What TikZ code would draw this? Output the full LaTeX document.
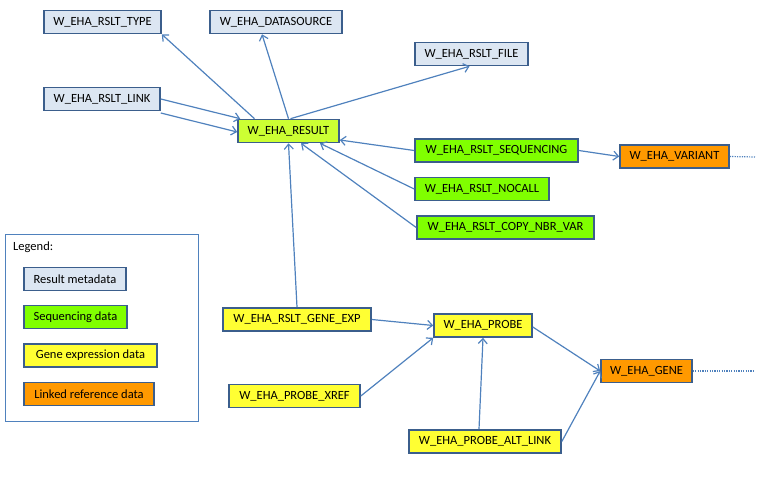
\documentclass[tikz,border=0pt]{standalone}
\usepackage{fontspec}
\setmainfont{Carlito}
\usepackage{tikz}
\usetikzlibrary{arrows.meta}

\definecolor{edgeblue}{HTML}{4F81BD}
\definecolor{boxline}{HTML}{3B5E8C}
\definecolor{metafill}{HTML}{DCE6F2}
\definecolor{seqfill}{HTML}{80FF00}
\definecolor{resfill}{HTML}{CCFF33}
\definecolor{genefill}{HTML}{FFFF33}
\definecolor{reffill}{HTML}{FF9900}

\begin{document}
\begin{tikzpicture}[x=1pt, y=-1pt, > = {Straight Barb[length=5pt,width=9pt]}, font=\fontsize{12.5}{14}\selectfont]
                \tikzstyle{table}=[rectangle, draw=boxline, line width=1.6pt, minimum height=23pt, inner sep=2pt]
                \tikzstyle{link}=[->, draw=edgeblue, line width=1.2pt]
                \tikzstyle{more}=[draw=edgeblue, line width=1.2pt, dash pattern=on 1.2pt off 1.2pt]

                    \useasboundingbox (0,0) rectangle (774,489);

                    % Nodes
                    \node[table, fill=metafill, minimum width=117pt] (rtype) at (102.5,22) {W\_EHA\_RSLT\_TYPE};
                    \node[table, fill=metafill, minimum width=132pt] (dsrc) at (276,22) {W\_EHA\_DATASOURCE};
                    \node[table, fill=metafill, minimum width=116pt] (rlink) at (102,99) {W\_EHA\_RSLT\_LINK};
                    \node[table, fill=resfill, minimum width=101pt] (res) at (288.5,131) {W\_EHA\_RESULT};
                    \node[table, fill=metafill, minimum width=113pt] (rfile) at (471.5,54) {W\_EHA\_RSLT\_FILE};
                    \node[table, fill=seqfill, minimum width=163pt] (seq) at (496.5,150.5) {W\_EHA\_RSLT\_SEQUENCING};
                    \node[table, fill=reffill, minimum width=109pt] (var) at (674.5,156.5) {W\_EHA\_VARIANT};
                    \node[table, fill=seqfill, minimum width=134pt] (nocall) at (482,189) {W\_EHA\_RSLT\_NOCALL};
                    \node[table, fill=seqfill, minimum width=177pt] (copy) at (505.5,227.5) {W\_EHA\_RSLT\_COPY\_NBR\_VAR};
                    \node[table, fill=genefill, minimum width=148pt] (gexp) at (297,319.5) {W\_EHA\_RSLT\_GENE\_EXP};
                    \node[table, fill=genefill, minimum width=131pt] (xref) at (294.5,396) {W\_EHA\_PROBE\_XREF};
                    \node[table, fill=genefill, minimum width=98pt] (probe) at (483,325.5) {W\_EHA\_PROBE};
                    \node[table, fill=reffill, minimum width=91pt] (gene) at (646.5,371) {W\_EHA\_GENE};
                    \node[table, fill=genefill, minimum width=152pt] (alt) at (485,441.5) {W\_EHA\_PROBE\_ALT\_LINK};

                    \coordinate (varend) at (755,157);
                    \coordinate (geneend) at (755,371);

                    % Edges
                    \draw[link] ([xshift=-34pt]res.north) -- (rtype.south east);
                    \draw[link] (res.north) -- ([xshift=-14pt]dsrc.south);
                    \draw[link] ([xshift=2pt]res.north) -- ([xshift=-2pt]rfile.south);
                    \draw[link] (rlink.east) -- ([xshift=3pt]res.north west);
                    \draw[link] ([yshift=-14pt]rlink.east) -- ([yshift=-1pt]res.west);
                    \draw[link] (seq.west) -- ([yshift=-9pt]res.east);
                    \draw[link] (nocall.west) -- ([xshift=31.5pt]res.south);
                    \draw[link] (copy.west) -- ([xshift=12.5pt]res.south);
                    \draw[link] (gexp.north) -- (res.south);
                    \draw[link] (seq.east) -- (var.west);
                    \draw[link] (gexp.east) -- (probe.west);
                    \draw[link] (xref.east) -- (probe.south west);
                    \draw[link] ([xshift=-6pt]alt.north) -- (probe.south);
                    \draw[link] ([yshift=-1.5pt]probe.east) -- (gene.west);
                    \draw[link] (alt.east) -- (gene.west);
                    \draw[more] (var.east) -- (varend);
                    \draw[more] (gene.east) -- (geneend);

                    % Legend
                    \node[draw=edgeblue, line width=1pt, minimum width=193pt, minimum height=186pt] (legend) at (101.5,328) {};
                    \node[anchor=west, inner sep=0pt] (legtitle) at (13,247) {Legend:};
                    \node[table, fill=metafill, minimum width=102pt] (lmeta) at (75,279) {Result metadata};
                    \node[table, fill=seqfill, minimum width=103pt] (lseq) at (75.5,317) {Sequencing data};
                    \node[table, fill=genefill, minimum width=133pt] (lgene) at (90.5,355.5) {Gene expression data};
                    \node[table, fill=reffill, minimum width=130pt] (lref) at (89,394) {Linked reference data};
            \end{tikzpicture}
\end{document}
